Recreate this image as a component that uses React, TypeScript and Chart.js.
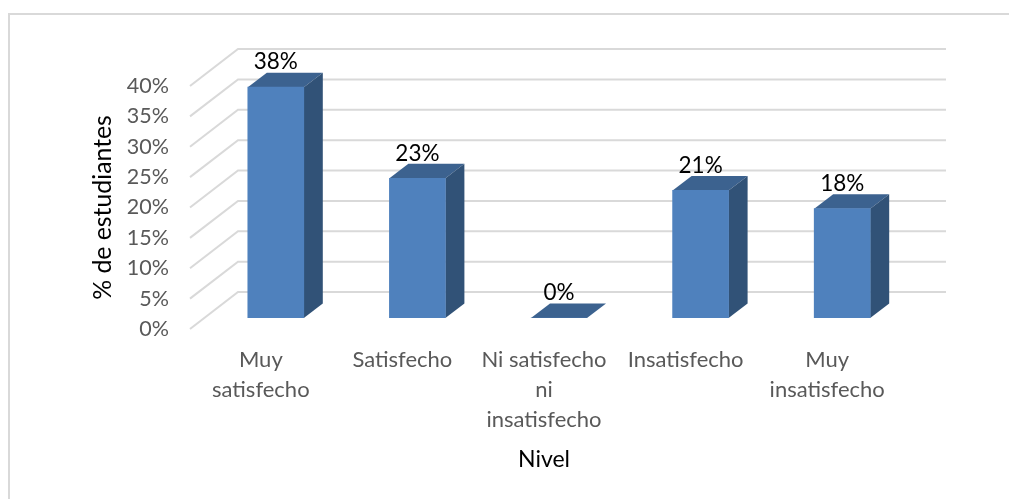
import React, { useEffect, useRef } from "react";
import { Chart, registerables } from "chart.js";

Chart.register(...registerables);

const categories = [
  ["Muy", "satisfecho"],
  "Satisfecho",
  ["Ni satisfecho", "ni", "insatisfecho"],
  "Insatisfecho",
  ["Muy", "insatisfecho"],
];
const percentages = [38, 23, 0, 21, 18];

const FONT = "Lato, Carlito, Calibri, sans-serif";

// Depth of the 3D look, measured from the front plane of the axes.
const BAR_SHIFT = { x: 15, y: -11 };
const SIDE = { x: 19, y: -14.5 };
const WALL = { x: 48, y: -37 };

const depthPlugin = {
  id: "depth3d",
  beforeDatasetsDraw(chart: any) {
    const { ctx, scales, chartArea } = chart;
    ctx.save();
    ctx.strokeStyle = "#d9d9d9";
    ctx.lineWidth = 2;
    for (const tick of scales.y.ticks) {
      const y = scales.y.getPixelForValue(tick.value);
      ctx.beginPath();
      ctx.moveTo(chartArea.left, y);
      ctx.lineTo(chartArea.left + WALL.x, y + WALL.y);
      ctx.lineTo(chartArea.right + WALL.x, y + WALL.y);
      ctx.stroke();
    }
    ctx.restore();
  },
  beforeDatasetDraw(chart: any) {
    const { ctx } = chart;
    ctx.save();
    ctx.translate(BAR_SHIFT.x, BAR_SHIFT.y);
    for (const bar of chart.getDatasetMeta(0).data) {
      const half = bar.width / 2;
      const l = bar.x - half;
      const r = bar.x + half;
      const t = bar.y;
      const b = bar.base;
      ctx.fillStyle = "#3c628f";
      ctx.beginPath();
      ctx.moveTo(l, t);
      ctx.lineTo(l + SIDE.x, t + SIDE.y);
      ctx.lineTo(r + SIDE.x, t + SIDE.y);
      ctx.lineTo(r, t);
      ctx.closePath();
      ctx.fill();
      if (b > t) {
        ctx.fillStyle = "#315277";
        ctx.beginPath();
        ctx.moveTo(r, t);
        ctx.lineTo(r + SIDE.x, t + SIDE.y);
        ctx.lineTo(r + SIDE.x, b + SIDE.y);
        ctx.lineTo(r, b);
        ctx.closePath();
        ctx.fill();
      }
    }
  },
  afterDatasetDraw(chart: any) {
    chart.ctx.restore();
  },
  afterDatasetsDraw(chart: any) {
    const { ctx } = chart;
    ctx.save();
    ctx.fillStyle = "#000000";
    ctx.font = `22.5px ${FONT}`;
    ctx.textAlign = "center";
    ctx.textBaseline = "middle";
    chart.getDatasetMeta(0).data.forEach((bar: any, i: number) => {
      ctx.fillText(`${percentages[i]}%`, bar.x + BAR_SHIFT.x, bar.y + BAR_SHIFT.y - 25);
    });
    ctx.restore();
  },
  // Frame along the top and left of the figure.
  beforeDraw(chart: any) {
    const { ctx } = chart;
    ctx.save();
    ctx.fillStyle = "#ffffff";
    ctx.fillRect(0, 0, chart.width, chart.height);
    ctx.strokeStyle = "#d9d9d9";
    ctx.lineWidth = 2;
    ctx.beginPath();
    ctx.moveTo(9, 499);
    ctx.lineTo(9, 14);
    ctx.lineTo(1009, 14);
    ctx.stroke();
    ctx.restore();
  },
};

export default function App() {
  const ref = useRef<HTMLCanvasElement>(null);

  useEffect(() => {
    document.body.style.margin = "0";
    const chart = new Chart(ref.current!, {
      type: "bar",
      data: {
        labels: categories,
        datasets: [
          {
            data: percentages,
            backgroundColor: "#4f81bd",
            barThickness: 56,
          },
        ],
      },
      plugins: [depthPlugin],
      options: {
        animation: false,
        responsive: false,
        layout: { padding: { left: 88, top: 86, right: 111, bottom: 24 } },
        plugins: { legend: { display: false }, tooltip: { enabled: false } },
        scales: {
          x: {
            grid: { display: false },
            border: { display: false },
            afterFit: (scale: any) => {
              scale.height = 146;
              scale.paddingLeft = 0;
              scale.paddingRight = 0;
            },
            ticks: {
              color: "#595959",
              font: { family: FONT, size: 22, lineHeight: 1.364 },
              maxRotation: 0,
              minRotation: 0,
              autoSkip: false,
              padding: 8,
            },
            title: {
              display: true,
              text: "Nivel",
              color: "#000000",
              font: { family: FONT, size: 23 },
              padding: { top: 4, bottom: 2 },
            },
          },
          y: {
            min: 0,
            max: 40,
            grid: { display: false },
            border: { display: false },
            afterFit: (scale: any) => {
              scale.width = 102;
              scale.paddingTop = 0;
              scale.paddingBottom = 0;
            },
            ticks: {
              stepSize: 5,
              color: "#595959",
              font: { family: FONT, size: 21.5 },
              padding: 13,
              callback: (v: any) => `${v}%`,
            },
            title: {
              display: true,
              text: "% de estudiantes",
              color: "#000000",
              font: { family: FONT, size: 24.8 },
              padding: { top: 0, bottom: 6 },
            },
          },
        },
      },
    });
    return () => chart.destroy();
  }, []);

  return <canvas ref={ref} width={1009} height={499} style={{ display: "block" }} />;
}
